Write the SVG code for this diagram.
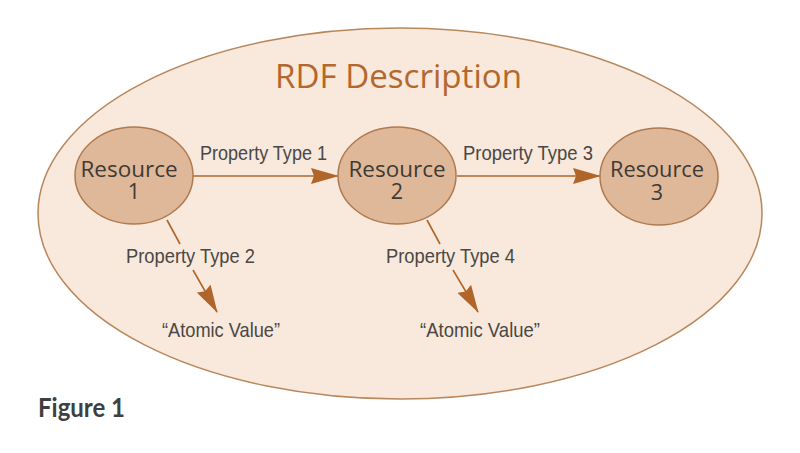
<svg xmlns="http://www.w3.org/2000/svg" width="800" height="453" viewBox="0 0 800 453">
<defs>
<style>
.node{fill:#dfb899;stroke:#b07a50;stroke-width:1.5}
.ntext{font-family:"Open Sans","Liberation Sans",sans-serif;font-size:21.5px;fill:#3d3a36;text-anchor:middle}
.lbl{font-family:"Liberation Sans",Arial,sans-serif;font-size:21px;fill:#4a4744}
.edge{stroke:#b0662a;stroke-width:1.6;fill:none}
</style>
<marker id="ah" markerUnits="userSpaceOnUse" viewBox="0 0 28 16" refX="27" refY="8" markerWidth="28" markerHeight="16" orient="auto">
<path d="M0,0 L28,8 L0,16 L3,8 z" fill="#b0662a"/>
</marker>
</defs>
<rect width="800" height="453" fill="#ffffff"/>
<g id="rdf-description">
<ellipse cx="400" cy="213.5" rx="362" ry="185.5" fill="#f8e9dc" stroke="#b9875c" stroke-width="1.5"/>
<text x="275" y="88" font-family="'Open Sans','Liberation Sans',sans-serif" font-size="32" fill="#b5672e" textLength="247" lengthAdjust="spacingAndGlyphs">RDF Description</text>
</g>
<g id="connectors">
<line class="edge" x1="193" y1="176" x2="338" y2="176" marker-end="url(#ah)"/>
<line class="edge" x1="457" y1="176" x2="600" y2="176" marker-end="url(#ah)"/>
<line class="edge" x1="167" y1="220" x2="180" y2="244"/>
<line class="edge" x1="193" y1="270" x2="217" y2="312" marker-end="url(#ah)"/>
<line class="edge" x1="427" y1="220" x2="440" y2="244"/>
<line class="edge" x1="453" y1="270" x2="478" y2="312" marker-end="url(#ah)"/>
<text class="lbl" x="200" y="160" textLength="127" lengthAdjust="spacingAndGlyphs">Property Type 1</text>
<text class="lbl" x="463" y="160" textLength="130" lengthAdjust="spacingAndGlyphs">Property Type 3</text>
<text class="lbl" x="126" y="263" textLength="129" lengthAdjust="spacingAndGlyphs">Property Type 2</text>
<text class="lbl" x="386" y="263" textLength="129" lengthAdjust="spacingAndGlyphs">Property Type 4</text>
</g>
<g id="resource-1">
<ellipse class="node" cx="134" cy="175.5" rx="59" ry="48.5"/>
<text class="ntext" x="129" y="177" textLength="97" lengthAdjust="spacingAndGlyphs">Resource</text>
<text class="ntext" x="134" y="199">1</text>
</g>
<g id="resource-2">
<ellipse class="node" cx="397" cy="175.5" rx="59" ry="48.5"/>
<text class="ntext" x="397" y="177" textLength="97" lengthAdjust="spacingAndGlyphs">Resource</text>
<text class="ntext" x="397" y="199">2</text>
</g>
<g id="resource-3">
<ellipse class="node" cx="659" cy="176.5" rx="59" ry="48.5"/>
<text class="ntext" x="657" y="177" textLength="94" lengthAdjust="spacingAndGlyphs">Resource</text>
<text class="ntext" x="657" y="200">3</text>
</g>
<g id="atomic-value-1">
<text class="lbl" x="162" y="337" textLength="118" lengthAdjust="spacingAndGlyphs">“Atomic Value”</text>
</g>
<g id="atomic-value-2">
<text class="lbl" x="420" y="337" textLength="120" lengthAdjust="spacingAndGlyphs">“Atomic Value”</text>
</g>
<text x="38" y="417" font-family="Lato,'Open Sans',sans-serif" font-weight="bold" font-size="26" fill="#3f3f3f" textLength="87" lengthAdjust="spacingAndGlyphs">Figure 1</text>
</svg>
